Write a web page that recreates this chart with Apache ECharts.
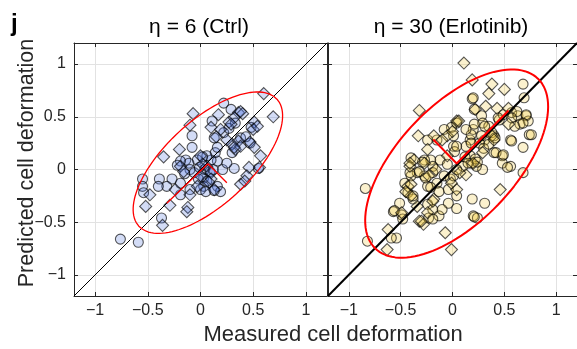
<!DOCTYPE html>
<html>
<head>
<meta charset="utf-8">
<script src="https://cdn.jsdelivr.net/npm/echarts@6/dist/echarts.min.js"></script>
<style>
  html, body { margin: 0; padding: 0; background: #fff; }
  #chart { width: 577px; height: 349px; }
</style>
</head>
<body>
<div id="chart"></div>
<script>
// tick positions shared by both panels
var tickValues = [-1, -0.5, 0, 0.5, 1];
var panelTitles = ["η = 6 (Ctrl)", "η = 30 (Erlotinib)"];

// eta = 6 (Ctrl) : [measured, predicted]
var ctrlCircles = [
  [0.22, 0.63], [0.29, 0.57], [-0.08, 0.32], [-0.08, 0.21], [0.11, 0.46], [0.22, 0.35],
  [0.48, 0.40], [0.47, 0.25], [0.32, 0.01], [0.21, 0.0], [0.25, 0.06], [0.16, 0.08],
  [0.14, 0.16], [0.10, 0.09], [-0.03, 0.09], [-0.14, 0.09], [-0.11, 0.06], [-0.19, 0.08],
  [-0.22, 0.04], [-0.10, 0.0], [-0.06, -0.03], [0.03, -0.08], [-0.02, -0.09], [0.06, -0.11],
  [0.03, -0.16], [0.0, -0.19], [0.05, -0.21], [0.16, -0.16], [0.19, -0.21], [-0.55, -0.09],
  [-0.39, -0.09], [-0.27, -0.09], [-0.32, -0.16], [-0.40, -0.16], [-0.55, -0.16], [-0.54, -0.22],
  [-0.19, -0.13], [-0.37, -0.46], [-0.76, -0.66], [-0.59, -0.69], [-0.10, -0.19], [-0.19, -0.24],
  [0.33, 0.44], [0.38, 0.30], [0.30, 0.16], [0.04, 0.0], [-0.01, 0.02], [0.09, -0.02],
  [-0.15, -0.04], [0.55, 0.01], [0.43, 0.31], [0.27, 0.39], [0.06, 0.13], [0.16, 0.21],
  [0.13, 0.30], [0.13, -0.20], [0.02, 0.12], [0.12, 0.0]
];
var ctrlDiamonds = [
  [0.60, 0.72], [0.69, 0.50], [-0.07, 0.53], [-0.10, 0.42], [0.17, 0.52], [0.36, 0.54],
  [0.40, 0.53], [0.27, 0.45], [0.10, 0.40], [0.19, 0.38], [0.15, 0.31], [0.51, 0.45],
  [0.50, 0.38], [0.25, 0.28], [0.30, 0.24], [0.33, 0.19], [0.36, 0.27], [0.38, 0.22],
  [0.47, 0.26], [0.51, 0.21], [0.57, 0.13], [0.56, 0.02], [0.46, 0.02], [0.44, -0.06],
  [0.38, -0.14], [0.42, -0.11], [-0.20, 0.19], [-0.35, 0.12], [0.0, 0.13], [-0.19, 0.03],
  [-0.16, -0.02], [0.06, 0.03], [0.10, -0.03], [0.0, -0.06], [-0.48, -0.24], [-0.52, -0.35],
  [-0.29, -0.34], [-0.10, -0.24], [-0.12, -0.36], [-0.13, -0.40], [-0.36, -0.53], [-0.24, -0.19],
  [-0.03, -0.16], [0.13, -0.19], [0.10, -0.09], [0.32, 0.21], [0.02, 0.05], [0.38, 0.55],
  [0.32, 0.49], [0.29, 0.43], [0.54, 0.41], [0.08, -0.12]
];

// eta = 30 (Erlotinib)
var erlCircles = [
  [0.68, 0.81], [0.69, 0.68], [0.19, 0.67], [0.21, 0.57], [0.28, 0.51], [0.57, 0.54],
  [0.63, 0.51], [0.71, 0.51], [0.73, 0.46], [0.65, 0.43], [0.60, 0.41], [0.56, 0.28],
  [0.68, 0.21], [0.74, 0.33], [0.40, 0.32], [0.48, 0.13], [0.48, 0.06], [0.56, 0.03],
  [0.68, -0.03], [0.40, 0.16], [0.29, 0.0], [0.23, 0.03], [0.18, 0.06], [0.17, 0.13],
  [0.10, 0.03], [0.01, 0.22], [0.02, 0.17], [0.20, 0.38], [0.17, 0.28], [-0.01, 0.40],
  [-0.08, 0.38], [-0.15, 0.28], [-0.24, 0.28], [0.04, 0.44], [0.19, -0.28], [0.31, -0.32],
  [0.20, -0.44], [0.24, -0.46], [0.04, -0.25], [-0.04, -0.19], [-0.02, -0.09], [-0.08, -0.06],
  [-0.15, -0.13], [-0.24, -0.16], [-0.27, -0.06], [-0.34, -0.03], [-0.40, -0.06], [-0.46, -0.13],
  [-0.43, -0.22], [-0.38, -0.28], [-0.51, -0.32], [-0.57, -0.40], [-0.49, -0.43], [-0.24, -0.33],
  [-0.19, -0.38], [-0.13, -0.44], [-0.23, -0.46], [-0.54, -0.65], [-0.59, -0.65], [-0.82, -0.68],
  [-0.84, -0.18], [-0.40, 0.11], [-0.21, 0.09], [-0.19, 0.03], [-0.12, 0.09], [0.01, -0.06],
  [0.04, 0.0], [0.18, 0.33], [0.31, 0.28], [0.26, 0.25], [0.13, 0.22], [0.29, 0.44],
  [0.35, 0.41], [0.45, 0.47], [0.49, 0.52], [0.20, 0.68], [0.57, 0.27], [0.76, 0.33],
  [0.42, 0.16], [0.49, 0.14], [0.38, 0.35], [0.41, 0.30], [-0.27, 0.09], [-0.29, 0.07],
  [0.22, 0.10], [0.24, 0.07], [-0.38, -0.25], [0.12, 0.12], [-0.05, 0.05], [0.30, 0.20],
  [0.44, 0.49], [0.21, 0.43], [0.31, 0.41], [0.13, 0.38], [0.18, 0.25], [0.28, 0.32],
  [0.35, 0.24], [0.01, 0.32], [0.04, 0.22], [0.62, 0.55], [0.71, 0.52], [0.68, 0.44],
  [0.57, 0.49], [0.04, -0.37], [-0.04, -0.32], [0.15, 0.06], [-0.56, -0.39], [-0.48, -0.47],
  [-0.41, -0.03], [-0.32, -0.02], [-0.26, -0.08], [-0.19, -0.03], [-0.21, -0.17], [-0.13, -0.21],
  [-0.10, -0.38], [-0.19, -0.47], [0.53, 0.02], [0.21, -0.45]
];
var erlDiamonds = [
  [0.11, 1.01], [0.19, 0.85], [0.38, 0.81], [0.50, 0.76], [0.35, 0.72], [0.32, 0.60],
  [0.43, 0.58], [-0.32, 0.56], [-0.33, 0.32], [0.04, 0.46], [-0.05, 0.32], [-0.10, 0.28],
  [-0.18, 0.32], [-0.24, 0.19], [-0.37, 0.09], [-0.16, 0.0], [-0.23, -0.06], [-0.43, -0.16],
  [-0.40, -0.25], [-0.34, -0.35], [-0.18, -0.28], [-0.24, -0.41], [-0.32, -0.49], [-0.28, -0.52],
  [-0.07, -0.60], [-0.01, -0.76], [-0.63, -0.76], [-0.62, -0.57], [0.46, -0.19], [0.04, -0.19],
  [-0.01, -0.13], [0.20, 0.06], [0.29, 0.16], [0.38, 0.32], [0.40, 0.28], [0.54, 0.43],
  [0.13, -0.05], [0.07, -0.03], [-0.27, 0.06], [-0.41, 0.03], [-0.05, 0.13], [-0.49, -0.41],
  [0.22, 0.57], [0.54, 0.58], [0.06, 0.46], [0.0, 0.36], [-0.45, -0.21], [-0.40, -0.14],
  [-0.30, -0.49], [-0.19, -0.30], [-0.41, 0.06]
];

// fitted ellipses (centre, semi axes, angle in degrees) and their axis segments
var ctrlEllipse = { cx: 0.07, cy: 0.065, a: 0.89, b: 0.40, deg: 42.6 };
var erlEllipse = { cx: 0.04, cy: 0.056, a: 1.124, b: 0.558, deg: 45.6 };
var ctrlAxes = [[-0.32, -0.32], [0.07, 0.055], [0.25, -0.125]];
var erlAxes = [[-0.185, 0.284], [0.04, 0.057], [0.54, 0.56]];
var diagonal = [[-1.2, -1.2], [1.2, 1.2]];

function ellipsePoints(e) {
  var pts = [];
  var th = e.deg * Math.PI / 180;
  for (var i = 0; i <= 120; i++) {
    var t = i / 120 * 2 * Math.PI;
    pts.push([
      e.cx + e.a * Math.cos(th) * Math.cos(t) - e.b * Math.sin(th) * Math.sin(t),
      e.cy + e.a * Math.sin(th) * Math.cos(t) + e.b * Math.cos(th) * Math.sin(t)
    ]);
  }
  return pts;
}

var FONT = "'Liberation Sans', Arial, Helvetica, sans-serif";
var AXIS_COLOR = "#262626";

function fmt(v) {
  return String(v).replace("-", "\u2212");
}

function mainAxis(grid, pos, labels) {
  return {
    type: "value",
    gridIndex: grid,
    position: pos,
    min: -1.2,
    max: 1.2,
    axisLine: { show: true, onZero: false, lineStyle: { color: AXIS_COLOR, width: 1 } },
    axisTick: { show: true, inside: true, length: 4, customValues: tickValues, lineStyle: { color: AXIS_COLOR } },
    axisLabel: {
      show: labels,
      customValues: tickValues,
      formatter: fmt,
      fontFamily: FONT,
      fontSize: 16,
      color: AXIS_COLOR,
      margin: pos === "bottom" ? 7 : 8
    },
    splitLine: { show: pos === "bottom" || pos === "left", lineStyle: { color: "#e2e2e2", width: 1 } }
  };
}

var styleCtrl = { color: "rgba(72,112,218,0.3)", borderColor: "rgba(0,0,0,0.82)", borderWidth: 1.1 };
var styleErl = { color: "rgba(240,198,55,0.3)", borderColor: "rgba(0,0,0,0.82)", borderWidth: 1.1 };

function scatter(grid, data, symbol, style) {
  return {
    type: "scatter",
    xAxisIndex: grid * 2,
    yAxisIndex: grid * 2,
    data: data,
    symbol: symbol,
    symbolSize: symbol === "circle" ? 10 : 12,
    itemStyle: style,
    silent: true,
    z: 2
  };
}

function line(grid, data, color, width, z) {
  return {
    type: "line",
    xAxisIndex: grid * 2,
    yAxisIndex: grid * 2,
    data: data,
    showSymbol: false,
    symbol: "none",
    lineStyle: { color: color, width: width },
    silent: true,
    animation: false,
    z: z
  };
}

var chart = echarts.init(document.getElementById("chart"));
chart.setOption({
  animation: false,
  grid: [
    { left: 74, top: 43, width: 253, height: 253 },
    { left: 328, top: 43, width: 256, height: 253 }
  ],
  xAxis: [
    mainAxis(0, "bottom", true),
    mainAxis(0, "top", false),
    mainAxis(1, "bottom", true),
    mainAxis(1, "top", false)
  ],
  yAxis: [
    mainAxis(0, "left", true),
    mainAxis(0, "right", false),
    mainAxis(1, "left", false),
    mainAxis(1, "right", false)
  ],
  series: [
    scatter(0, ctrlCircles, "circle", styleCtrl),
    scatter(0, ctrlDiamonds, "diamond", styleCtrl),
    scatter(1, erlCircles, "circle", styleErl),
    scatter(1, erlDiamonds, "diamond", styleErl),
    line(0, diagonal, "#000", 1, 3),
    line(1, diagonal, "#000", 2, 3),
    line(0, ellipsePoints(ctrlEllipse), "#ff0000", 1.3, 4),
    line(1, ellipsePoints(erlEllipse), "#ff0000", 2, 4),
    line(0, ctrlAxes, "#ff0000", 1.3, 4),
    line(1, erlAxes, "#ff0000", 2, 4)
  ],
  graphic: [
    { type: "text", left: 11, top: 12, style: { text: "j", font: "bold 24px " + FONT, fill: "#000" } },
    { type: "text", x: 199, y: 27, style: { text: panelTitles[0], font: "21px " + FONT, fill: "#000", textAlign: "center", textVerticalAlign: "middle" } },
    { type: "text", x: 451, y: 27, style: { text: panelTitles[1], font: "21px " + FONT, fill: "#000", textAlign: "center", textVerticalAlign: "middle" } },
    { type: "text", x: 333, y: 335, style: { text: "Measured cell deformation", font: "22px " + FONT, fill: AXIS_COLOR, textAlign: "center", textVerticalAlign: "middle" } },
    { type: "text", x: 27, y: 163, rotation: Math.PI / 2, style: { text: "Predicted cell deformation", font: "21.5px " + FONT, fill: AXIS_COLOR, textAlign: "center", textVerticalAlign: "middle" } }
  ]
});
</script>
</body>
</html>
